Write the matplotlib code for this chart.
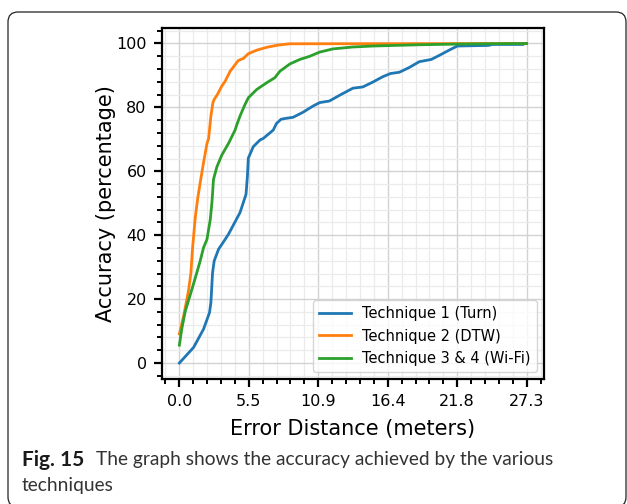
import matplotlib
matplotlib.use("Agg")
import matplotlib.pyplot as plt
from matplotlib.patches import FancyBboxPatch
from matplotlib.ticker import FixedLocator, AutoMinorLocator, FormatStrFormatter
import numpy as np

# Technique 1 (Turn)
turn_x = [0, 1.12, 1.9, 2.37, 2.48, 2.61, 2.74, 3.08, 3.6, 3.86, 4.77, 5.24, 5.35,
          5.42, 5.81, 6.34, 6.6, 7.38, 7.64, 8.0, 8.43, 8.94, 9.73, 10.5, 11.03, 11.8,
          12.6, 13.64, 14.42, 15.2, 15.99, 16.6, 17.3, 18.08, 18.86, 19.8, 20.4, 21.2,
          21.85, 24.3, 24.6, 27.0]
turn_y = [0, 4.9, 10.6, 15.8, 19.0, 28.3, 32.0, 35.6, 38.7, 40.3, 47.1, 52.8, 58.5,
          64.1, 67.7, 69.8, 70.3, 72.9, 75.0, 76.3, 76.6, 76.9, 78.5, 80.4, 81.5, 82.0,
          83.8, 86.0, 86.4, 87.9, 89.6, 90.6, 91.0, 92.5, 94.3, 95.0, 96.2, 97.9,
          99.2, 99.4, 99.7, 99.7]

# Technique 2 (DTW)
dtw_x = [0, 0.34, 0.73, 0.91, 1.04, 1.25, 1.43, 1.64, 1.9, 2.17, 2.3, 2.48, 2.64, 2.74,
         3.0, 3.34, 3.6, 3.99, 4.64, 5.03, 5.42, 6.08, 6.86, 7.77, 8.7, 27.3]
dtw_y = [9.1, 14.8, 22.9, 28.3, 36.1, 45.5, 51.2, 56.5, 62.7, 68.7, 70.3, 77.3, 81.5, 82.5,
         84.1, 86.7, 88.2, 91.3, 94.7, 95.3, 96.8, 97.9, 98.8, 99.5, 99.9, 100]

# Technique 3 & 4 (Wi-Fi)
wifi_x = [0, 0.13, 0.21, 0.47, 0.86, 1.25, 1.64, 1.9, 2.17, 2.43, 2.56, 2.64, 2.68, 2.95,
          3.34, 3.86, 4.38, 4.51, 4.77, 5.16, 5.42, 6.08, 6.86, 7.51, 7.9, 8.69, 9.47,
          10.25, 11.03, 12.07, 13.64, 15.2, 17.0, 18.9, 21.8, 24.0, 27.3]
wifi_y = [5.6, 9.1, 11.1, 16.3, 21.4, 26.6, 32.0, 36.1, 38.7, 44.9, 50.2, 54.9, 57.4, 61.4,
          65.1, 68.7, 72.9, 74.5, 77.3, 80.9, 83.0, 85.6, 87.7, 89.3, 91.3, 93.6, 95.0,
          96.0, 97.3, 98.3, 98.9, 99.2, 99.4, 99.6, 99.8, 99.9, 100]

x_ticks = np.linspace(0, 27.3, 6)
y_ticks = [0, 20, 40, 60, 80, 100]

fig = plt.figure(figsize=(6.27, 5.04), dpi=100)
ax = fig.add_axes([162 / 627, 1 - 379 / 504, (544 - 162) / 627, (379 - 27.5) / 504])

ax.plot(turn_x, turn_y, color="#1f77b4", lw=2, label="Technique 1 (Turn)")
ax.plot(dtw_x, dtw_y, color="#ff7f0e", lw=2, label="Technique 2 (DTW)")
ax.plot(wifi_x, wifi_y, color="#2ca02c", lw=2, label="Technique 3 & 4 (Wi-Fi)")

ax.set_xlim(-1.365, 28.665)
ax.set_ylim(-5, 105)
ax.xaxis.set_major_locator(FixedLocator(x_ticks))
ax.xaxis.set_major_formatter(FormatStrFormatter("%.1f"))
ax.yaxis.set_major_locator(FixedLocator(y_ticks))
ax.xaxis.set_minor_locator(AutoMinorLocator(5))
ax.yaxis.set_minor_locator(AutoMinorLocator(5))

ax.grid(which="major", color="#d2d2d2", lw=1.0)
ax.grid(which="minor", color="#ebebeb", lw=0.9)
ax.set_axisbelow(True)

for s in ax.spines.values():
    s.set_linewidth(1.6)
ax.tick_params(which="major", length=6, width=1.6, labelsize=11.5, pad=5)
ax.tick_params(which="minor", length=3.5, width=1.4)

ax.set_xlabel("Error Distance (meters)", fontsize=15, labelpad=7)
ax.set_ylabel("Accuracy (percentage)", fontsize=15, labelpad=0)

ax.legend(loc="lower right", fontsize=10.5, handlelength=2.2, borderaxespad=0.5)

# caption and rounded frame
frame = FancyBboxPatch((8, -3), 618, 495, boxstyle="round,pad=0,rounding_size=10",
                       transform=None, fill=False, edgecolor="#222222", lw=0.9,
                       clip_on=False)
fig.patches.append(frame)

fig.text(22 / 627, 1 - 460 / 504, "Fig. 15", fontsize=15, fontweight="bold",
         family="Lato", va="center", color="#1a1a1a")
fig.text(96 / 627, 1 - 460 / 504, "The graph shows the accuracy achieved by the various",
         fontsize=13.8, family="Lato", va="center", color="#333333")
fig.text(22 / 627, 1 - 485 / 504, "techniques", fontsize=13.8, family="Lato",
         va="center", color="#333333")

fig.savefig("out.png", dpi=100)
